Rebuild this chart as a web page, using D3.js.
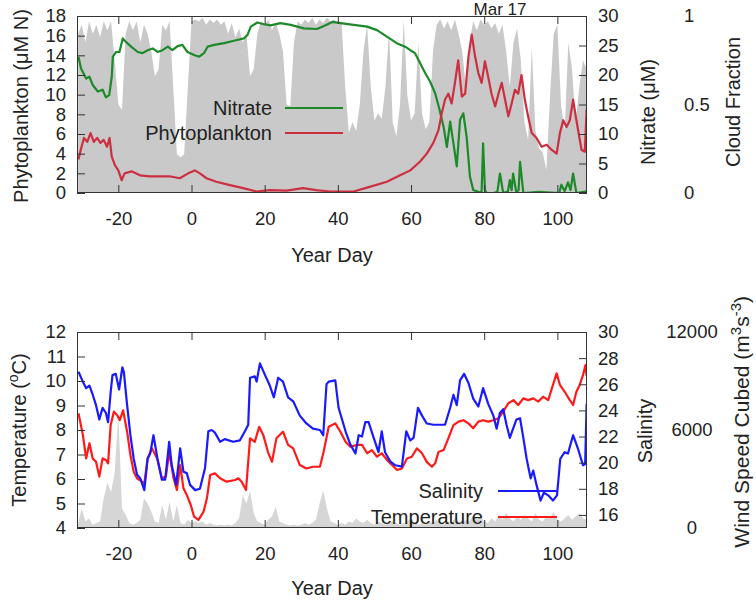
<!DOCTYPE html>
<html>
<head>
<meta charset="utf-8">
<script src="https://cdn.jsdelivr.net/npm/d3@7"></script>
<style>
  body { margin: 0; background: #fff; }
  text { font-family: "Liberation Sans", Arial, sans-serif; font-size: 20px; fill: #222; }
  .tick text { font-size: 18.5px; }
</style>
</head>
<body>
<svg id="chart" width="756" height="602"></svg>
<script>
// day, value pairs
var nitrate = [[-30.9,23.1],[-30.2,21.1],[-28.8,19.4],[-27.9,19.7],[-27,18.3],[-25.6,17.2],[-24.3,17.5],[-23.4,16.2],[-22.5,16.6],[-21.8,19.7],[-21.5,23.1],[-20.6,23.9],[-19.7,23.9],[-18.8,26.2],[-17.9,25.6],[-16.5,24.8],[-14.7,23.9],[-13.4,23.7],[-12,24.2],[-10.6,24.5],[-9.3,23.9],[-7.9,24.2],[-6.5,24.8],[-5.2,24.2],[-3.8,24.9],[-2.5,25.1],[-1.1,23.9],[0.7,23.4],[2.1,23.1],[3.4,23.7],[4.4,24.8],[6.2,25.1],[8.9,25.4],[11.6,25.8],[14.3,26.2],[15.3,26.8],[16.2,28.2],[18,28.9],[19.8,28.6],[21.6,28.4],[24.3,28.8],[27.1,28.5],[30.7,27.9],[34.3,27.8],[36.5,28.4],[38.5,29.0],[40.7,28.8],[44.3,28.5],[48,28.2],[50.7,27.6],[53.4,26.5],[56.1,25.4],[58.4,24.8],[59.8,24.2],[61.1,23.7],[62.5,22],[63.9,20.3],[65.2,18.9],[66.6,16.9],[67.8,14.1],[68.9,11.2],[69.8,7.8],[70.7,12.1],[71.6,8.4],[72.5,4.5],[73.4,12.4],[74.3,13.5],[75.2,9.5],[76.1,2.8],[77,0.5],[78.8,0.1],[79.3,0.3],[79.7,8.4],[80.2,0.5],[80.7,0],[82.5,0],[83.6,0.2],[84.3,3.3],[85.2,0],[86.5,0.3],[87,2.2],[87.5,0.5],[87.9,3.3],[88.8,0],[89.4,0.5],[89.8,5.3],[90.7,0],[95,0.2],[100.5,0],[101.1,1.4],[102,0.3],[102.9,1.8],[103.6,0.5],[104.3,3.3],[105.2,0],[108,0.3]];

var phyto = [[-30.9,3.4],[-30.2,4.5],[-29.4,5.6],[-28.5,5.2],[-27.6,6.1],[-26.7,5.2],[-25.8,5.6],[-24.9,5.1],[-24,5.4],[-23.1,4.7],[-22.4,5.6],[-21.8,3.7],[-20.9,2.8],[-20,2.3],[-19.1,1.3],[-18.3,2.0],[-16.4,2.2],[-14.1,1.8],[-11.4,1.7],[-8.7,1.7],[-6,1.7],[-3.2,1.5],[-0.9,2.0],[0.9,2.3],[2.3,2.0],[4.1,1.5],[6.8,1.15],[10.5,0.8],[14.1,0.5],[17.8,0.15],[21.4,0.3],[26,0.25],[30.5,0.5],[34.1,0.3],[37.8,0.15],[40.7,0.15],[44.3,0.15],[48.9,0.65],[53.4,1.15],[57,1.8],[59.8,2.3],[62.5,3.2],[64.3,4.0],[66.1,5.1],[67.5,6.4],[68.4,8.1],[69.3,9.5],[70.2,10.1],[71.1,9.1],[72,11.2],[72.9,13.5],[73.9,9.8],[74.8,10.1],[75.7,13.9],[76.6,16.1],[77.5,13.9],[78.4,12.2],[79.3,11.2],[80.2,13.4],[81.1,11.8],[82,10.1],[83,8.8],[83.9,10.1],[84.8,11.2],[85.7,9.5],[86.6,7.8],[87.5,9.1],[88.4,10.5],[89.3,10.1],[90.2,12.0],[91.1,9.5],[92,7.8],[93,6.1],[94.3,5.6],[95.7,4.7],[97.1,4.9],[98.4,4.4],[99.8,4.0],[100.7,6.1],[101.6,7.4],[102.5,6.7],[103.4,7.4],[104.3,9.5],[105.2,7.4],[106.6,4.4],[107.5,4.2],[108,8.5]];

var salinity = [[-30.9,26.96],[-29.7,26.2],[-28.8,25.7],[-27.9,25.9],[-27,25.2],[-26.1,24.4],[-25.2,23.3],[-24.3,24.2],[-23.4,23.8],[-22.8,23.1],[-22.1,25.4],[-21.6,26.7],[-20.7,26.8],[-19.8,25.6],[-18.9,27.3],[-18.5,26.96],[-17.6,24.4],[-16.7,22.1],[-15.8,20.3],[-14.9,19.1],[-14,18.8],[-12.9,17.9],[-12,20.3],[-11.3,20.7],[-10.4,22.1],[-9.3,20.3],[-8.1,18.7],[-7.2,18.7],[-6.1,21.6],[-5.4,19.8],[-4.2,18.3],[-3.1,21.1],[-2.2,19.3],[-1.3,19.2],[-0.4,18.3],[1,17.9],[2.3,18.0],[3.7,19.6],[4.6,22.4],[5.5,22.5],[6.4,22.3],[7.8,21.6],[9.1,21.8],[11.4,21.6],[13.2,21.7],[14.6,22.4],[15.5,22.9],[16,26.5],[17.3,26.6],[17.8,26.2],[18.7,27.6],[20.1,26.7],[21.4,25.9],[22.5,25.0],[23.7,26.5],[25,26.2],[26.4,25.0],[27.8,24.7],[29.6,23.6],[31.4,23.0],[33.2,22.6],[35.1,22.5],[36,22.1],[36.9,26.0],[37.5,26.2],[39.3,26.3],[40.2,24.2],[42.1,22.4],[43.4,21.4],[44.8,20.7],[45.7,22.1],[46.6,22.0],[47.5,23.1],[48.4,23.1],[49.8,21.9],[51.1,20.8],[52,22.4],[52.9,20.8],[54.3,20.1],[55.7,19.8],[57.5,19.7],[58.7,22.4],[59.8,21.7],[60.7,21.9],[61.9,24.2],[63,23.6],[64.3,23.0],[66.1,22.9],[67.9,22.9],[69.3,22.9],[70.7,24.2],[71.6,25.2],[72.5,24.4],[73.4,26.3],[74.5,26.8],[75.7,26.1],[77,24.9],[78.4,24.3],[79.7,25.7],[81.1,24.5],[82.5,23.6],[83.4,22.6],[84.3,23.8],[85.2,24.1],[86.1,22.9],[87,21.9],[87.9,22.6],[88.8,23.3],[89.8,23.4],[90.7,21.9],[91.6,20.3],[92.7,18.8],[93.4,19.4],[94.3,18.3],[95.4,17.1],[96.3,17.7],[97.5,17.5],[98.8,17.1],[99.9,17.5],[100.8,20.3],[102,20.8],[102.9,20.7],[104.3,22.1],[105.6,21.1],[107,19.8],[107.6,19.9],[108,24.5]];

var temperature = [[-30.9,8.68],[-29.7,7.8],[-28.8,6.84],[-27.9,7.46],[-27,6.84],[-26.1,6.7],[-25.2,6.1],[-24.3,6.84],[-23.4,6.78],[-22.8,6.64],[-22.1,8.2],[-21.2,8.75],[-20.3,8.6],[-19.6,8.4],[-18.7,8.8],[-17.6,7.93],[-16.7,6.98],[-15.8,6.3],[-14.9,6.03],[-13.5,5.89],[-12.9,5.8],[-12,6.84],[-10.8,7.25],[-9.4,6.84],[-8.1,6.03],[-7,6.1],[-6.1,7.1],[-4.9,6.03],[-4,5.55],[-3.1,6.57],[-2.2,5.62],[-1.3,5.35],[-0.2,4.94],[0.7,4.46],[1.9,4.33],[3.3,4.67],[4.2,5.2],[5.1,6.16],[6.4,6.23],[7.8,6.03],[9.6,5.89],[11.9,5.96],[12.8,6.03],[13.7,5.89],[14.9,5.55],[16,7.66],[17.3,7.52],[18.5,8.13],[19.6,7.8],[20.9,7.1],[22,6.7],[23.2,7.66],[25,7.93],[26.4,7.39],[27.8,7.25],[29.6,6.57],[31.4,6.43],[33.2,6.5],[35.1,6.5],[36.1,7.1],[37.5,8.13],[39.3,8.27],[40.7,7.93],[42.1,7.52],[43.4,7.32],[45.2,7.39],[46.6,7.39],[48,7.05],[49.3,7.18],[50.7,6.91],[52,7.05],[53.4,6.78],[54.8,6.57],[56.2,6.37],[57.5,6.43],[58.9,6.84],[60.2,6.91],[61.6,7.25],[63,7.05],[64.3,6.7],[65.7,6.5],[66.6,6.64],[67.5,7.1],[68.9,7.18],[70.2,7.66],[71.6,8.2],[73,8.34],[74.3,8.4],[75.7,8.27],[77,8.07],[78.4,8.34],[79.7,8.4],[81.1,8.34],[82.5,8.4],[83.9,8.48],[85.2,8.75],[86.6,9.09],[88,9.22],[89.3,9.02],[90.7,9.29],[92,9.22],[93.4,9.29],[94.8,9.16],[96.1,9.36],[97.5,9.22],[98.8,9.84],[99.8,10.31],[100.7,9.84],[102,9.56],[103.4,9.22],[104.3,9.02],[105.2,9.56],[106.1,9.84],[107,10.24],[107.7,10.65],[108,10.2]];

// daily values, year day -31 .. 108
var seriesDays = d3.range(-31, 109);
var cloudFraction = [
  0.9,0.95,0.85,0.97,0.9,0.95,0.88,0.97,0.92,0.97,
  0.75,0.5,0.47,0.9,0.97,0.92,0.97,0.85,0.95,0.9,
  0.8,0.66,0.7,0.95,0.92,0.97,0.6,0.22,0.2,0.22,
  0.6,0.97,0.98,0.97,0.99,0.95,0.98,0.96,0.98,0.95,
  0.97,0.9,0.96,0.88,0.93,0.85,0.9,0.66,0.7,0.9,
  0.97,0.95,0.98,0.92,0.96,0.9,0.8,0.5,0.49,0.85,
  0.97,0.95,0.98,0.96,0.99,0.95,0.98,0.96,0.99,0.97,
  0.98,0.96,0.97,0.6,0.34,0.4,0.35,0.5,0.8,0.95,
  0.6,0.41,0.45,0.42,0.6,0.92,0.4,0.32,0.5,0.98,
  0.55,0.41,0.45,0.85,0.45,0.36,0.4,0.8,0.95,0.98,
  0.93,0.97,0.92,0.98,0.9,0.8,0.6,0.85,0.97,0.92,
  0.98,0.95,0.97,0.93,0.96,0.9,0.95,0.8,0.6,0.85,
  0.93,0.75,0.4,0.3,0.82,0.35,0.25,0.23,0.13,0.55,
  0.9,0.95,0.5,0.35,0.85,0.7,0.4,0.6,0.75,0.7
];
var windCubed = [
  300,1200,400,600,200,300,400,1800,2800,2200,
  3400,7000,1200,800,300,200,300,500,1800,1500,
  1000,400,300,1400,500,1600,400,1400,300,200,
  500,300,400,300,400,200,300,200,150,200,
  150,200,150,300,600,2000,1500,2300,900,400,
  300,200,500,700,1300,400,300,200,150,200,
  150,200,300,200,300,500,1500,2300,1200,400,
  300,200,300,200,400,300,600,400,300,500,
  300,200,400,300,200,300,400,300,200,300,
  400,600,300,200,300,200,400,300,500,300,
  200,400,300,600,400,300,500,400,800,500,
  700,400,300,600,400,800,500,900,600,400,
  700,500,800,600,400,900,500,400,700,600,
  1000,500,400,600,800,500,700,900,600,500
];

var dayTicks = [-20, 0, 20, 40, 60, 80, 100];
var phytoTicks = [0, 2, 4, 6, 8, 10, 12, 14, 16, 18];
var nitrateTicks = [0, 5, 10, 15, 20, 25, 30];
var cloudTicks = [0, 0.5, 1];
var tempTicks = [4, 5, 6, 7, 8, 9, 10, 11, 12];
var salinityTicks = [16, 18, 20, 22, 24, 26, 28, 30];
var windTicks = [0, 6000, 12000];

(function () {
  var svg = d3.select("#chart");
  var left = 77, right = 587;
  var p1 = { top: 16, bottom: 193 };
  var p2 = { top: 332, bottom: 528 };
  var plain = function (d) { return String(d); };

  var x = d3.scaleLinear().domain([-31.3, 108.1]).range([left, right]);
  var yPhyto = d3.scaleLinear().domain([0, 18]).range([p1.bottom, p1.top]);
  var yNitrate = d3.scaleLinear().domain([0, 30]).range([p1.bottom, p1.top]);
  var yCloud = d3.scaleLinear().domain([0, 1]).range([p1.bottom, p1.top]);
  var yTemp = d3.scaleLinear().domain([4, 12]).range([p2.bottom, p2.top]);
  var ySal = d3.scaleLinear().domain([15, 30]).range([p2.bottom, p2.top]);
  var yWind = d3.scaleLinear().domain([0, 12000]).range([p2.bottom, p2.top]);

  var defs = svg.append("defs");
  [["clip1", p1], ["clip2", p2]].forEach(function (c) {
    defs.append("clipPath").attr("id", c[0]).append("rect")
      .attr("x", left).attr("y", c[1].top)
      .attr("width", right - left).attr("height", c[1].bottom - c[1].top);
  });

  function lineFor(yScale) {
    return d3.line().x(function (d) { return x(d[0]); }).y(function (d) { return yScale(d[1]); });
  }

  // ---- top panel ----
  var g1 = svg.append("g").attr("clip-path", "url(#clip1)");
  g1.append("path")
    .datum(cloudFraction)
    .attr("fill", "#c9c9c9")
    .attr("d", d3.area()
      .x(function (d, i) { return x(seriesDays[i]); })
      .y0(p1.bottom)
      .y1(function (d) { return yCloud(d); }));
  g1.append("path").datum(nitrate)
    .attr("fill", "none").attr("stroke", "#1d8a2a").attr("stroke-width", 2.2)
    .attr("stroke-linejoin", "round").attr("d", lineFor(yNitrate));
  g1.append("path").datum(phyto)
    .attr("fill", "none").attr("stroke", "#cc2f40").attr("stroke-width", 2.2)
    .attr("stroke-linejoin", "round").attr("d", lineFor(yPhyto));

  // ---- bottom panel ----
  var g2 = svg.append("g").attr("clip-path", "url(#clip2)");
  g2.append("path")
    .datum(windCubed)
    .attr("fill", "#d6d6d6")
    .attr("d", d3.area()
      .x(function (d, i) { return x(seriesDays[i]); })
      .y0(p2.bottom)
      .y1(function (d) { return yWind(d); }));
  g2.append("path").datum(temperature)
    .attr("fill", "none").attr("stroke", "#ff1a1a").attr("stroke-width", 2.2)
    .attr("stroke-linejoin", "round").attr("d", lineFor(yTemp));
  g2.append("path").datum(salinity)
    .attr("fill", "none").attr("stroke", "#1a1aff").attr("stroke-width", 2.2)
    .attr("stroke-linejoin", "round").attr("d", lineFor(ySal));

  // ---- axes ----
  function axis(gen, tx, ty) {
    var g = svg.append("g").attr("transform", "translate(" + tx + "," + ty + ")").style("color", "#333").call(gen);
    g.select(".domain").remove();
    return g;
  }

  [p1, p2].forEach(function (p) {
    axis(d3.axisBottom(x).tickValues(dayTicks).tickSize(-8).tickPadding(19).tickFormat(plain), 0, p.bottom);
    axis(d3.axisTop(x).tickValues(dayTicks).tickSize(-8).tickFormat(""), 0, p.top);
    svg.append("rect")
      .attr("x", left + 0.5).attr("y", p.top + 0.5)
      .attr("width", right - left - 1).attr("height", p.bottom - p.top - 1)
      .attr("fill", "none").attr("stroke", "#333").attr("stroke-width", 1);
  });

  axis(d3.axisLeft(yPhyto).tickValues(phytoTicks).tickSize(-8).tickPadding(11).tickFormat(plain), left, 0);
  axis(d3.axisRight(yNitrate).tickValues(nitrateTicks).tickSize(-8).tickPadding(11).tickFormat(plain), right, 0);
  axis(d3.axisRight(yCloud).tickValues(cloudTicks).tickSize(0).tickPadding(0).tickFormat(plain), 684, 0);

  axis(d3.axisLeft(yTemp).tickValues(tempTicks).tickSize(-8).tickPadding(11).tickFormat(plain), left, 0);
  axis(d3.axisRight(ySal).tickValues(salinityTicks).tickSize(-8).tickPadding(11).tickFormat(plain), right, 0);
  axis(d3.axisRight(yWind).tickValues(windTicks).tickSize(0).tickPadding(0).tickFormat(plain), 692, 0)
    .selectAll("text").attr("text-anchor", "middle");

  // ---- axis titles ----
  function vlabel(tx, ty, anchor) {
    return svg.append("text")
      .attr("transform", "translate(" + tx + "," + ty + ") rotate(-90)")
      .attr("text-anchor", anchor || "middle");
  }
  vlabel(28, 106).text("Phytoplankton (μM N)");
  vlabel(655, 112).text("Nitrate (μM)");
  vlabel(740, 102).text("Cloud Fraction");

  var tl = vlabel(26, 430);
  tl.append("tspan").text("Temperature (");
  tl.append("tspan").attr("dy", -8).style("font-size", "14px").text("o");
  tl.append("tspan").attr("dy", 8).text("C)");
  vlabel(652, 431).text("Salinity");
  var wl = vlabel(749, 296, "end").style("font-size", "21px");
  wl.append("tspan").text("Wind Speed Cubed (m");
  wl.append("tspan").attr("dy", -8).style("font-size", "15px").text("3");
  wl.append("tspan").attr("dy", 8).text("s");
  wl.append("tspan").attr("dy", -8).style("font-size", "15px").text("-3");
  wl.append("tspan").attr("dy", 8).text(")");

  svg.append("text").attr("x", (left + right) / 2).attr("y", 262).attr("text-anchor", "middle").text("Year Day");
  svg.append("text").attr("x", (left + right) / 2).attr("y", 595).attr("text-anchor", "middle").text("Year Day");
  svg.append("text").attr("x", 500).attr("y", 15).attr("text-anchor", "middle").style("font-size", "17px").text("Mar 17");

  // ---- legends ----
  function legend(label, color, textX, y, x1, x2) {
    svg.append("text").attr("x", textX).attr("y", y + 7).attr("text-anchor", "end").text(label);
    svg.append("line").attr("x1", x1).attr("x2", x2).attr("y1", y).attr("y2", y)
      .attr("stroke", color).attr("stroke-width", 2);
  }
  legend("Nitrate", "#1d8a2a", 272, 108, 285, 343);
  legend("Phytoplankton", "#cc2f40", 272, 133, 285, 343);
  legend("Salinity", "#1a1aff", 483, 491, 498, 557);
  legend("Temperature", "#ff1a1a", 483, 517, 498, 557);
})();
</script>
</body>
</html>
